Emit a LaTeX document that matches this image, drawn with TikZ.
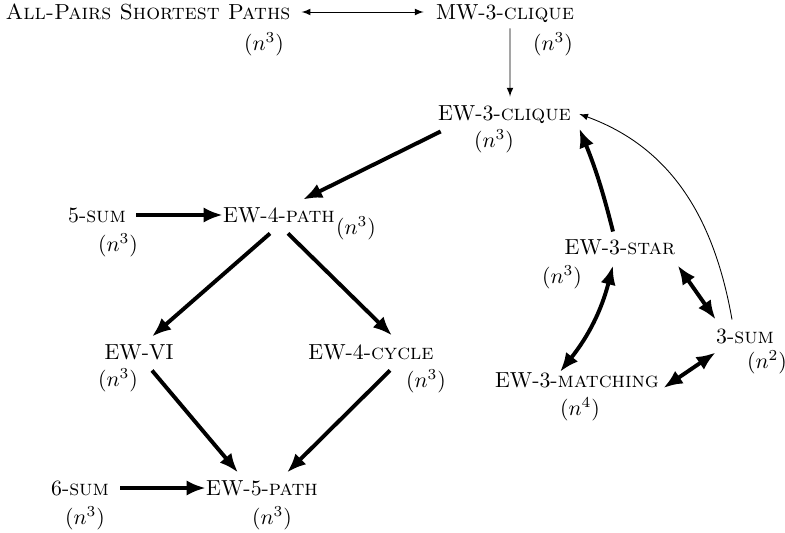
\documentclass[tikz,border=0pt]{standalone}
\usepackage{amsmath,amssymb}
\usetikzlibrary{calc,arrows.meta}

\begin{document}
\begin{tikzpicture}[x=0.4587pt,y=-0.4587pt,
  prob/.style={inner sep=0pt,text height=7pt,text depth=0pt},
  tm/.style={inner sep=0pt},
  red/.style={-{Latex[length=8.8pt,width=7pt]},line width=1.8pt},
  eqv/.style={{Latex[length=8.8pt,width=7pt]}-{Latex[length=8.8pt,width=7pt]},line width=1.8pt},
  thinred/.style={-latex,thin},
  thineqv/.style={latex-latex,thin}]
\useasboundingbox (0,0) rectangle (785,533);

\node[prob] (apsp) at (148,12) {\textsc{All-Pairs Shortest Paths}};
\node[tm] (tapsp) at (264,44) {$(n^3)$};
\node[prob] (mw) at (505,12) {MW-3-\textsc{clique}};
\node[tm] (tmw) at (553,44) {$(n^3)$};
\node[prob] (ewclique) at (504.5,113) {EW-3-\textsc{clique}};
\node[tm] (tewclique) at (494,141) {$(n^3)$};

\node[prob] (fivesum) at (97,215) {5-\textsc{sum}};
\node[tm] (tfivesum) at (118,245) {$(n^3)$};
\node[prob] (ewpath4) at (279,215) {EW-4-\textsc{path}};
\node[tm] (tewpath4) at (356,228) {$(n^3)$};
\node[prob] (ewvi) at (139,352) {EW-VI};
\node[tm] (tewvi) at (118,380) {$(n^3)$};
\node[prob] (ewcycle4) at (371,352) {EW-4-\textsc{cycle}};
\node[tm] (tewcycle4) at (426,381) {$(n^3)$};
\node[prob] (sixsum) at (80,488) {6-\textsc{sum}};
\node[tm] (tsixsum) at (85,518) {$(n^3)$};
\node[prob] (ewpath5) at (262,488) {EW-5-\textsc{path}};
\node[tm] (tewpath5) at (272,518) {$(n^3)$};

\node[prob] (ewstar) at (620,247) {EW-3-\textsc{star}};
\node[tm] (tewstar) at (562,277) {$(n^3)$};
\node[prob] (threesum) at (745,336) {3-\textsc{sum}};
\node[tm] (tthreesum) at (767,362) {$(n^2)$};
\node[prob] (ewmatching) at (577,380) {EW-3-\textsc{matching}};
\node[tm] (tewmatching) at (580,409) {$(n^4)$};

\draw[thineqv,shorten <=5pt,shorten >=5.5pt] (apsp) -- (mw);
\draw[thinred] ($(mw.south)+(5,8.4)$) -- ($(ewclique.north)+(5.5,-8.4)$);
\draw[thinred] ($(threesum.north)+(-13,-8.4)$) to[out=100,in=-20] ($(ewclique.east)+(8,1)$);

\draw[red] ($(ewclique.south west)+(3,10.4)$) -- ($(ewpath4.north)+(24,-7.4)$);
\draw[red,shorten <=4.6pt] (fivesum) -- (ewpath4);
\draw[red] ($(ewpath4.south)+(-9,10.4)$) -- ($(ewvi.north)+(13,-7.4)$);
\draw[red] ($(ewpath4.south)+(9,10.4)$) -- ($(ewcycle4.north)+(21,-8.4)$);
\draw[red] ($(ewvi.south)+(13,10.4)$) -- ($(ewpath5.north)+(-24,-7.4)$);
\draw[red] ($(ewcycle4.south)+(19,10.4)$) -- ($(ewpath5.north)+(25,-7.4)$);
\draw[red,shorten <=5pt] (sixsum) -- (ewpath5);

\draw[red] ($(ewstar.north)+(-7,-7.4)$) to[bend right=4] ($(ewclique.south east)+(8,7.4)$);
\draw[eqv] ($(ewstar.south)+(-7,10.4)$) to[bend left=12] ($(ewmatching.north)+(-17,0)$);
\draw[eqv] ($(ewstar.south east)+(2,10.4)$) -- ($(threesum.north west)+(0,-8.4)$);
\draw[eqv] ($(threesum.south west)+(0,8.4)$) -- ($(ewmatching.east)+(4,8)$);
\end{tikzpicture}
\end{document}
